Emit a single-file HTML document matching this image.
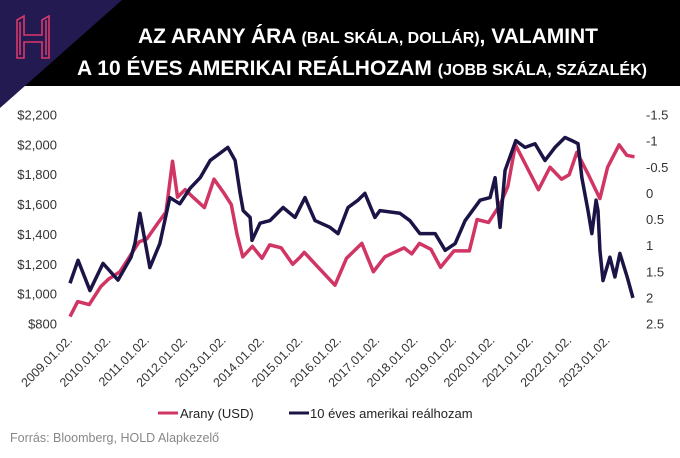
<!DOCTYPE html>
<html><head><meta charset="utf-8"><style>
body{margin:0;width:680px;height:453px;background:#fff;overflow:hidden;font-family:"Liberation Sans",sans-serif;}
</style></head><body>
<svg width="680" height="453" viewBox="0 0 680 453">
<rect x="0" y="0" width="680" height="86" fill="#000"/>
<polygon points="0,0 122,0 0,108" fill="#241a52"/>
<g fill="none" stroke="#d9386a" stroke-width="1.6">
<path d="M17,20 L17,58 L24,58 L24,42 L42,42 L42,58 L49,58 L49,16 L42,20 L42,35 L24,35 L24,16 Z"/>
<path d="M20,22 L20,55 M46,20 L46,55"/>
</g>
<text x="368" y="43" text-anchor="middle" fill="#fff" font-size="21" font-weight="bold" textLength="460">AZ ARANY ÁRA <tspan font-size="16">(BAL SKÁLA, DOLLÁR)</tspan>, VALAMINT</text>
<text x="362" y="75" text-anchor="middle" fill="#fff" font-size="21" font-weight="bold" textLength="570">A 10 ÉVES AMERIKAI REÁLHOZAM <tspan font-size="16">(JOBB SKÁLA, SZÁZALÉK)</tspan></text>
<g id="yl"></g>
<g id="yr"></g>
<g id="xa"></g>
<g id="lines"></g>
<g>
<line x1="158" y1="413" x2="178" y2="413" stroke="#d03564" stroke-width="3"/>
<text x="180" y="418" font-size="13" fill="#222">Arany (USD)</text>
<line x1="289" y1="413" x2="309" y2="413" stroke="#1b1446" stroke-width="3"/>
<text x="310" y="418" font-size="13" fill="#222">10 éves amerikai reálhozam</text>
</g>
<text x="10" y="442" font-size="12.5" fill="#888">Forrás: Bloomberg, HOLD Alapkezelő</text>
</svg>
<script>
const leftTicks=[800,1000,1200,1400,1600,1800,2000,2200];
const rightTicks=[-1.5,-1,-0.5,0,0.5,1,1.5,2,2.5];
const xLabels=["2009.01.02.","2010.01.02.","2011.01.02.","2012.01.02.","2013.01.02.","2014.01.02.","2015.01.02.","2016.01.02.","2017.01.02.","2018.01.02.","2019.01.02.","2020.01.02.","2021.01.02.","2022.01.02.","2023.01.02."];
const goldT=[2009.0,2009.2,2009.5,2009.8,2010.0,2010.3,2010.5,2010.8,2011.0,2011.3,2011.5,2011.67,2011.8,2012.0,2012.2,2012.5,2012.75,2013.0,2013.2,2013.35,2013.5,2013.75,2014.0,2014.2,2014.5,2014.8,2015.0,2015.1,2015.5,2015.9,2016.2,2016.6,2016.9,2017.2,2017.7,2017.9,2018.1,2018.4,2018.65,2019.0,2019.4,2019.6,2019.9,2020.2,2020.4,2020.6,2020.9,2021.2,2021.5,2021.8,2022.0,2022.2,2022.5,2022.8,2023.0,2023.3,2023.5,2023.7];
const goldV=[850,950,930,1050,1100,1150,1230,1350,1370,1480,1550,1890,1650,1700,1650,1580,1770,1680,1600,1400,1250,1320,1240,1330,1310,1200,1250,1280,1170,1060,1240,1340,1150,1250,1310,1270,1340,1300,1180,1290,1290,1500,1480,1600,1720,2000,1850,1700,1850,1770,1800,1950,1800,1640,1850,2000,1930,1920];
const yieldT=[2009.0,2009.21,2009.52,2009.86,2010.25,2010.59,2010.69,2010.82,2011.08,2011.34,2011.6,2011.86,2012.13,2012.39,2012.65,2012.91,2013.11,2013.3,2013.43,2013.51,2013.69,2013.74,2013.95,2014.21,2014.55,2014.86,2015.12,2015.38,2015.77,2015.98,2016.24,2016.5,2016.68,2016.94,2017.07,2017.59,2017.85,2018.11,2018.51,2018.77,2019.03,2019.29,2019.68,2019.94,2020.07,2020.2,2020.33,2020.61,2020.85,2021.11,2021.37,2021.63,2021.89,2022.07,2022.23,2022.33,2022.49,2022.59,2022.7,2022.75,2022.8,2022.88,2023.06,2023.19,2023.32,2023.51,2023.66];
const yieldV=[1.72,1.28,1.86,1.34,1.66,1.22,0.96,0.38,1.42,0.96,0.08,0.2,-0.1,-0.3,-0.63,-0.77,-0.88,-0.63,0.0,0.33,0.46,0.9,0.57,0.52,0.27,0.46,0.08,0.52,0.65,0.77,0.27,0.13,0.0,0.46,0.33,0.38,0.52,0.77,0.77,1.09,0.96,0.52,0.13,0.08,-0.3,0.65,-0.44,-1.01,-0.88,-0.95,-0.63,-0.88,-1.07,-1.01,-0.95,-0.3,0.33,0.77,0.13,0.33,1.09,1.67,1.22,1.6,1.15,1.6,2.0];
const NS="http://www.w3.org/2000/svg";
const x=t=>70+(t-2009)*38.4;
const yL=v=>324-(v-800)*(209/1400);
const yR=v=>115+(v+1.5)*(209/4);
function mk(tag,attrs,parent){const e=document.createElementNS(NS,tag);for(const k in attrs)e.setAttribute(k,attrs[k]);parent.appendChild(e);return e;}
const yl=document.getElementById('yl'),yr=document.getElementById('yr'),xa=document.getElementById('xa'),ln=document.getElementById('lines');
leftTicks.forEach(v=>{const t=mk('text',{x:57,y:yL(v)+4.5,'text-anchor':'end','font-size':13,fill:'#333'},yl);t.textContent='$'+v.toLocaleString('en-US');

});
rightTicks.forEach(v=>{const t=mk('text',{x:646,y:yR(v)+4.5,'font-size':13,fill:'#333'},yr);t.textContent=String(v);

});
xLabels.forEach((s,i)=>{const px=x(2009+i)+3,py=341;const t=mk('text',{x:px,y:py,'text-anchor':'end','font-size':12.5,fill:'#333',transform:`rotate(-45 ${px} ${py})`},xa);t.textContent=s;

});
const g=mk('polyline',{points:goldT.map((t,i)=>x(t)+','+yL(goldV[i])).join(' '),fill:'none',stroke:'#d03564','stroke-width':3.5,'stroke-linejoin':'round'},ln);


const r=mk('polyline',{points:yieldT.map((t,i)=>x(t)+','+yR(yieldV[i])).join(' '),fill:'none',stroke:'#1b1446','stroke-width':3.5,'stroke-linejoin':'round'},ln);


</script>
</body></html>
